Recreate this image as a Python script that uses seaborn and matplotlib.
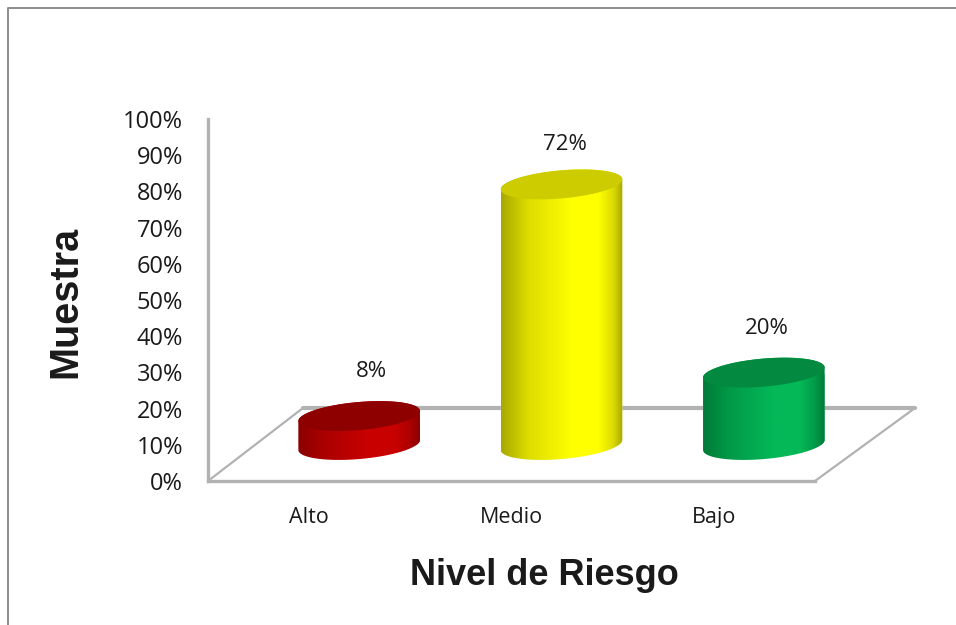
import numpy as np
import pandas as pd
import matplotlib
matplotlib.use("Agg")
import matplotlib.pyplot as plt
from matplotlib.colors import LinearSegmentedColormap
from matplotlib.lines import Line2D
from matplotlib.patches import Polygon
import seaborn as sns

categories = ["Alto", "Medio", "Bajo"]
values = [8, 72, 20]
yticks = list(range(0, 101, 10))
xlabel = "Nivel de Riesgo"
ylabel = "Muestra"
body_mid = ["#c80000", "#ffff00", "#04b858"]
body_edge = ["#8a0000", "#a8a800", "#007a38"]
body_shade = ["#ac0000", "#dcdc00", "#029a48"]
cap_color = ["#8e0000", "#cccc00", "#038a40"]
label_dx = [12, 3, 3]
label_dy = [32, 29, 32]

W, H = 956, 625
sns.set_theme(style="white")
plt.rcParams["font.family"] = ["Open Sans", "DejaVu Sans"]
GRAY = "#b2b2b2"
TXT = "#1a1a1a"

fig = plt.figure(figsize=(W / 100, H / 100), dpi=100, facecolor="white")

def px_rect(x0, y_top, x1, y_bot):
    return [x0 / W, 1 - y_bot / H, (x1 - x0) / W, (y_bot - y_top) / H]

def fig_line(xs, ys, lw, color=GRAY):
    fig.add_artist(Line2D([x / W for x in xs], [1 - y / H for y in ys], lw=lw,
                          color=color, zorder=-1, solid_capstyle="round"))

# front axis
ax = fig.add_axes(px_rect(208, 119, 815, 481))
ax.patch.set_alpha(0)
ax.set_xlim(-0.5, 2.5)
ax.set_ylim(0, 100)
ax.set_xticks(range(len(categories)), categories)
ax.set_yticks(yticks, [f"{v}%" for v in yticks])
ax.tick_params(axis="y", length=0, pad=18, labelsize=17, labelcolor=TXT)
ax.tick_params(axis="x", length=0, pad=19, labelsize=15.5, labelcolor=TXT)
for s in ("top", "right"):
    ax.spines[s].set_visible(False)
for s in ("left", "bottom"):
    ax.spines[s].set_color(GRAY)
    ax.spines[s].set_linewidth(2.4)
ax.set_xlabel(xlabel, fontsize=26, fontweight="bold", family="Liberation Sans", color=TXT, va="center")
ax.set_ylabel(ylabel, fontsize=28.5, fontweight="bold", family="Liberation Sans", color=TXT, va="center")
ax.xaxis.set_label_coords(0.5535, -0.26)
ax.yaxis.set_label_coords(-0.2356, 0.4945)

# floor
fig_line([208, 303, 915, 815], [481, 408, 408, 481], 1.6)
fig_line([303, 915], [408, 408], 3)
# outer border
fig_line([8, 8, 956], [625, 8, 8], 1.4, "#8c8c8c")

# bars, on an axes offset into the floor's depth
ax2 = fig.add_axes(px_rect(208 + 50, 119 - 36, 815 + 50, 481 - 36))
ax2.patch.set_alpha(0)
df = pd.DataFrame({"nivel": categories, "valor": values})
sns.barplot(data=df, x="nivel", y="valor", hue="nivel", palette=body_mid, legend=False,
            width=0.6, saturation=1, ax=ax2)
ax2.set_xlim(-0.5, 2.5)
ax2.set_ylim(0, 100)
ax2.axis("off")

sx = 607 / 3      # px per category
sy = 362 / 100    # px per unit
a, b, th = 61.0, 14.0, np.deg2rad(5)
t0 = np.arctan2(-b * np.sin(th), a * np.cos(th))

def arc(cx, cy, t):
    px = a * np.cos(t) * np.cos(th) - b * np.sin(t) * np.sin(th)
    py = a * np.cos(t) * np.sin(th) + b * np.sin(t) * np.cos(th)
    return np.column_stack([cx + px / sx, cy + py / sy])

for i, bar in enumerate(ax2.patches[:len(values)]):
    cx = bar.get_x() + bar.get_width() / 2
    top = bar.get_height()
    lower = arc(cx, 0, np.linspace(t0 + np.pi, t0 + 2 * np.pi, 80))
    upper = arc(cx, top, np.linspace(t0, t0 + np.pi, 80))
    body = Polygon(np.vstack([lower, upper]), closed=True, transform=ax2.transData,
                   fc="none", ec="none", clip_on=False)
    ax2.add_patch(body)
    bar.set_clip_path(body)
    bar.set_clip_box(fig.bbox)
    cmap = LinearSegmentedColormap.from_list(
        f"c{i}", [(0, body_edge[i]), (0.22, body_shade[i]), (0.58, body_mid[i]),
                  (0.8, body_mid[i]), (0.92, body_shade[i]), (1, body_edge[i])])
    xl, xr = cx - a / sx, cx + a / sx
    im = ax2.imshow(np.linspace(0, 1, 256)[None, :], cmap=cmap, aspect="auto",
                    extent=(xl, xr, -6, top + 6), zorder=3, interpolation="bilinear")
    im.set_clip_path(body)
    im.set_clip_box(fig.bbox)
    ax2.add_patch(Polygon(arc(cx, top, np.linspace(0, 2 * np.pi, 160)), closed=True,
                          fc=cap_color[i], ec="none", zorder=4, clip_on=False))
    ax2.annotate(f"{values[i]}%", (cx, top), xytext=(label_dx[i] / 1.389, label_dy[i]),
                 textcoords="offset points", ha="center", va="center",
                 fontsize=16, color=TXT, zorder=5)

ax2.set_xlim(-0.5, 2.5)
ax2.set_ylim(0, 100)
fig.savefig("out.png", dpi=100, facecolor="white")
